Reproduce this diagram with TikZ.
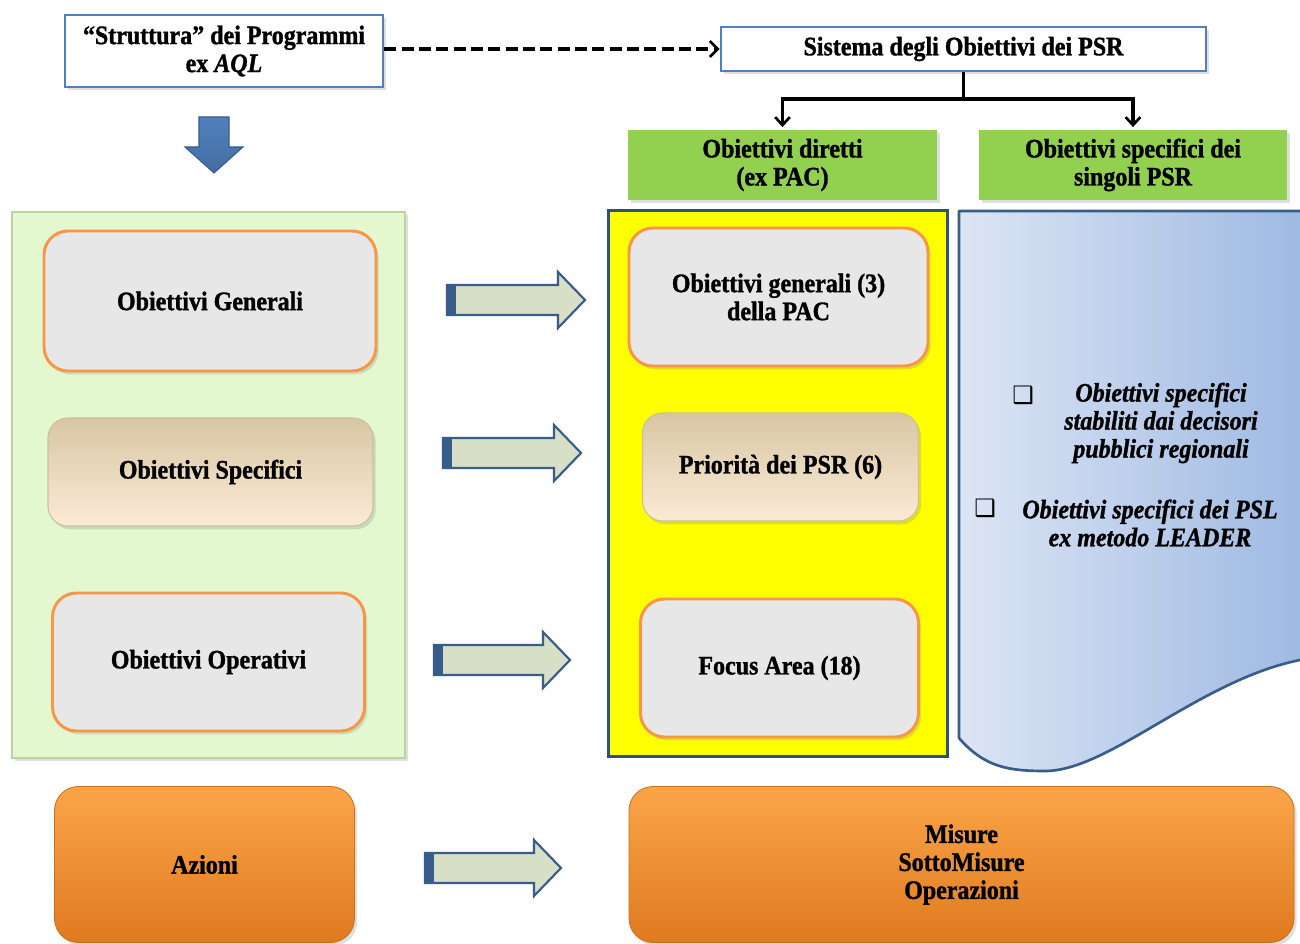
\documentclass[tikz,border=0pt]{standalone}
\usepackage{fontspec}
\setmainfont{Liberation Serif}[FakeStretch=0.9, BoldFeatures={FakeBold=1.2}, BoldItalicFeatures={FakeBold=1.2}]
\newfontfamily\dejavu{DejaVu Sans}
\usetikzlibrary{arrows.meta,shadows,calc}
\definecolor{boxblue}{HTML}{4F81BD}
\definecolor{darkblue}{HTML}{385D8A}
\definecolor{navyb}{HTML}{2F4F80}
\definecolor{pgreen}{HTML}{92D050}
\definecolor{lgreen}{HTML}{E4F8CF}
\definecolor{lgreenborder}{HTML}{B9D6A2}
\definecolor{orangeb}{HTML}{F79646}
\definecolor{texgray}{HTML}{E7E7E7}
\definecolor{beigetop}{HTML}{D8C6A3}
\definecolor{beigebot}{HTML}{FBEBD6}
\definecolor{beigeborder}{HTML}{C9C19E}
\definecolor{oratop}{HTML}{FBA548}
\definecolor{orabot}{HTML}{E07A1F}
\definecolor{arrfill}{HTML}{D7DFC6}
\definecolor{bluelight}{HTML}{DCE5F4}
\definecolor{bluedark}{HTML}{9FBAE3}
\definecolor{yel}{HTML}{FFFF00}
\def\px{0.75pt}
\tikzset{
  txt/.style={font=\fontsize{20}{21}\selectfont\bfseries, align=center, inner sep=0pt, text=black},
  soft/.style={drop shadow={shadow xshift=2pt, shadow yshift=-2.5pt, opacity=0.25}},
  headbox/.style={txt, draw=boxblue, line width=2pt, fill=white, soft},
  greenbox/.style={txt, fill=pgreen, soft},
  graybox/.style={txt, draw=orangeb, line width=2.2pt, fill=texgray, rounded corners=18pt, soft},
  beigebox/.style={txt, draw=beigeborder, line width=0.8pt, top color=beigetop, bottom color=beigebot, rounded corners=15pt, soft},
  orabox/.style={txt, draw=orabot!90!black, line width=0.6pt, top color=oratop, bottom color=orabot, rounded corners=18pt, soft},
  conn/.style={line width=2.6pt, -{Straight Barb[length=6pt, width=11pt, line width=2pt]}},
  btxt/.style={font=\fontsize{20}{21}\selectfont\bfseries\itshape, align=center, inner sep=0pt},
  bull/.style={font=\dejavu\fontsize{18}{18}\selectfont, inner sep=0pt}
}
\newcommand\rarrow[4]{%
  \filldraw[fill=arrfill, draw=darkblue, line width=1.6pt, line join=miter]
    (#1,#3-15) -- (#2-#4,#3-15) -- (#2-#4,#3-28) -- (#2,#3) -- (#2-#4,#3+28) -- (#2-#4,#3+15) -- (#1,#3+15) -- cycle;
  \fill[darkblue] (#1,#3-15) rectangle (#1+9,#3+15);}
\begin{document}
\begin{tikzpicture}[x=0.75pt, y=-0.75pt]
\useasboundingbox (0,0) rectangle (1300,944);
\fill[white] (0,0) rectangle (1300,944);

% top boxes
\node[headbox, minimum width=318*\px, minimum height=72*\px] (struct) at (224,51)
  {“Struttura” dei Programmi\\ ex \textit{AQL}};
\node[headbox, minimum width=485*\px, minimum height=44*\px] (sistema) at (963.5,49)
  {Sistema degli Obiettivi dei PSR};
\node[greenbox, minimum width=309*\px, minimum height=70*\px] (diretti) at (782.5,165)
  {Obiettivi diretti\\(ex PAC)};
\node[greenbox, minimum width=308*\px, minimum height=70*\px] (singoli) at (1133,165)
  {Obiettivi specifici dei\\singoli PSR};

\draw[line width=2.8pt, dash pattern=on 9pt off 4pt, -{Straight Barb[length=6pt, width=12pt, line width=2pt]}]
  (struct.east |- sistema.west) -- (sistema.west);
\coordinate (junc) at (963.5,99);
\draw[line width=2.6pt] (sistema.south) -- (junc);
\draw[conn] (junc) -| ([yshift=2pt]diretti.north);
\draw[conn] (junc) -| ([yshift=2pt]singoli.north);

% blue down arrow
\shade[top color=boxblue, bottom color=boxblue!85!black, draw=darkblue, line width=0.8pt]
  (199,117) -- (229,117) -- (229,147) -- (243,147) -- (214,173) -- (185,147) -- (199,147) -- cycle;

% left panel
\node[fill=lgreen, draw=lgreenborder, line width=1pt, minimum width=393*\px, minimum height=546*\px, soft] (leftpanel) at (208.5,485) {};
\node[graybox, minimum width=332*\px, minimum height=140*\px] (gen) at (210,301) {Obiettivi Generali};
\node[beigebox, minimum width=325*\px, minimum height=108*\px] (spec) at (210.5,472) {Obiettivi Specifici};
\node[graybox, minimum width=312*\px, minimum height=138*\px] (oper) at (208.5,662) {Obiettivi Operativi};

% yellow panel
\node[fill=yel, draw=navyb, line width=2.4pt, minimum width=339*\px, minimum height=546*\px] (yellow) at (778,483.5) {};
\node[graybox, minimum width=299*\px, minimum height=138*\px] (pac) at (778.5,297) {Obiettivi generali (3)\\della PAC};
\node[beigebox, minimum width=276*\px, minimum height=108*\px] (prio) at (780.5,467) {Priorità dei PSR (6)};
\node[graybox, minimum width=278*\px, minimum height=138*\px] (focus) at (779.5,668) {Focus Area (18)};

% blue document panel
\shade[shading=axis, shading angle=60, left color=bluelight, right color=bluedark]
  (1300,211) -- (959,211) -- (959,738) .. controls (985,768) and (1010,771) .. (1046,771)
  .. controls (1110,770) and (1200,680) .. (1300,660) -- cycle;
\draw[darkblue, line width=2pt, line join=round]
  (1300,211) -- (959,211) -- (959,738) .. controls (985,768) and (1010,771) .. (1046,771)
  .. controls (1110,770) and (1200,680) .. (1300,660);
\node[bull] (bul1) at (1023,395) {❑};
\node[btxt] (b1) at (1161,423) {Obiettivi specifici\\stabiliti dai decisori\\pubblici regionali};
\node[bull] (bul2) at (985,508) {❑};
\node[btxt] (b2) at (1150,523) {Obiettivi specifici dei PSL\\ex metodo LEADER};

% bottom boxes
\node[orabox, minimum width=300*\px, minimum height=156*\px] (azioni) at (204.5,864.5) {Azioni};
\node[orabox, minimum width=665*\px, minimum height=156*\px] (misure) at (961.5,864.5) {Misure\\SottoMisure\\Operazioni};

% block arrows
\rarrow{447}{585}{300}{27}
\rarrow{443}{581}{453}{27}
\rarrow{434}{570}{660}{27}
\rarrow{425}{561}{868}{27}
\end{tikzpicture}
\end{document}
